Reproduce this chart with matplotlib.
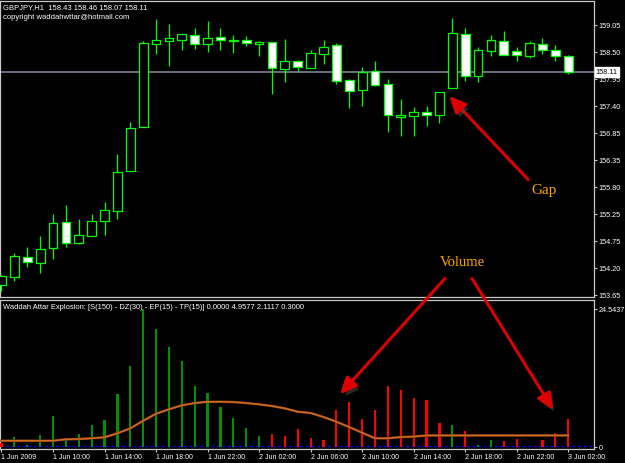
import numpy as np
import matplotlib
matplotlib.use('Agg')
import matplotlib.pyplot as plt
from matplotlib.patches import Rectangle, ConnectionPatch
import matplotlib.patheffects as pe
import matplotlib.transforms as mtransforms

plt.rcParams['font.family'] = ['Liberation Sans', 'DejaVu Sans']

# GBPJPY H1, bars from 1 Jun 06:00 to 3 Jun 02:00
opens = [153.86, 154.02, 154.42, 154.30, 154.60, 155.12, 154.70, 154.84, 155.14, 155.34,
         156.13, 157.02, 158.68, 158.74, 158.76, 158.86, 158.68, 158.82, 158.74, 158.76,
         158.68, 158.72, 158.18, 158.34, 158.20, 158.48, 158.65, 157.96, 157.76, 158.13,
         157.88, 157.22, 157.24, 157.31, 157.26, 157.80, 158.88, 158.04, 158.54, 158.74,
         158.53, 158.44, 158.68, 158.56, 158.43]
highs = [154.05, 154.50, 154.62, 154.83, 155.27, 155.45, 155.17, 155.27, 155.51, 156.47,
         157.12, 158.73, 159.17, 159.07, 158.88, 159.00, 159.13, 158.99, 158.85, 158.83,
         158.74, 158.72, 158.78, 158.36, 158.55, 158.76, 158.69, 157.97, 158.21, 158.34,
         157.97, 157.57, 157.41, 157.44, 157.71, 159.20, 159.00, 158.62, 158.86, 158.93,
         158.62, 158.74, 158.80, 158.65, 158.46]
lows = [153.74, 153.94, 154.22, 154.10, 154.38, 154.61, 154.67, 154.84, 154.85, 155.17,
        156.13, 157.02, 158.48, 158.24, 158.56, 158.57, 158.52, 158.55, 158.50, 158.64,
        158.44, 157.67, 157.92, 158.11, 158.20, 158.28, 157.88, 157.40, 157.44, 157.83,
        156.92, 156.84, 156.84, 157.03, 157.10, 157.80, 157.93, 157.92, 158.44, 158.45,
        158.34, 158.40, 158.48, 158.34, 158.07]
closes = [154.03, 154.44, 154.31, 154.58, 155.10, 154.70, 154.86, 155.14, 155.36, 156.12,
          157.00, 158.70, 158.76, 158.79, 158.88, 158.68, 158.80, 158.76, 158.76, 158.70,
          158.72, 158.20, 158.34, 158.22, 158.49, 158.62, 157.94, 157.74, 158.12, 157.86,
          157.26, 157.26, 157.31, 157.25, 157.71, 158.90, 158.03, 158.56, 158.76, 158.45,
          158.45, 158.70, 158.56, 158.44, 158.11]
last_price = 158.11

# Waddah Attar Explosion histogram
vol = [0.71, 1.78, 0.36, 2.18, 5.56, 1.60, 2.36, 3.96, 4.79, 9.46,
       14.48, 24.54, 21.0, 17.86, 15.37, 10.93, 9.58, 7.21, 5.20, 3.37,
       2.06, 2.36, 1.95, 3.25, 1.60, 1.24, 6.62, 8.04, 4.97, 6.62,
       10.93, 10.17, 8.75, 8.40, 4.37, 3.96, 2.89, 0.41, 1.24, 1.12,
       1.42, 0.0, 1.35, 2.54, 4.96]
vol_up = [0, 1, 1, 1, 1, 1, 1, 1, 1, 1,
          1, 1, 1, 1, 1, 1, 1, 1, 1, 1,
          1, 0, 0, 0, 0, 0, 0, 0, 0, 0,
          0, 0, 0, 0, 0, 1, 0, 1, 1, 0,
          0, 0, 0, 0, 0]
explosion = [1.17, 1.17, 1.17, 1.17, 1.17, 1.42, 1.47, 1.60, 1.78, 2.49,
             3.37, 4.72, 5.96, 6.75, 7.46, 7.86, 8.08, 8.09, 8.04, 7.86,
             7.63, 7.33, 6.92, 6.32, 6.09, 5.38, 4.54, 3.60, 2.59, 1.60,
             1.60, 1.83, 1.90, 2.11, 2.11, 2.11, 2.11, 2.11, 2.11, 2.11,
             2.11, 2.11, 2.11, 2.11, 2.11]
dead_zone = 0.3

price_labels = ['159.05', '158.50', '157.95', '157.40', '156.85', '156.35',
                '155.80', '155.25', '154.75', '154.20', '153.65']
time_labels = ['1 Jun 2009', '1 Jun 10:00', '1 Jun 14:00', '1 Jun 18:00', '1 Jun 22:00',
               '2 Jun 02:00', '2 Jun 06:00', '2 Jun 10:00', '2 Jun 14:00', '2 Jun 18:00',
               '2 Jun 22:00', '3 Jun 02:00']

lime = '#00ff00'
frame = '#c8c8c8'
x = np.arange(len(opens))

fig = plt.figure(figsize=(6.25, 4.63), dpi=100, facecolor='black')
ax1 = fig.add_axes([0.0, 0.3585, 0.9504, 0.6393], facecolor='black')
ax2 = fig.add_axes([0.0, 0.0302, 0.9504, 0.3218], facecolor='black')

for ax in (ax1, ax2):
    ax.set_xlim(-0.116, 46.0)
    for s in ax.spines.values():
        s.set_color(frame)
        s.set_linewidth(0.9)
    ax.yaxis.tick_right()
    ax.tick_params(axis='y', colors=frame, labelcolor='white', length=2.2, width=0.8,
                   labelsize=5.2, pad=0.9)

# ---------------- price pane ----------------
ax1.set_ylim(153.61, 159.53)
ax1.set_xticks([])
ax1.set_yticks(np.linspace(159.05, 153.65, len(price_labels)))
ax1.set_yticklabels(price_labels)

ax1.axhline(last_price, color='#66707c', lw=1.4, zorder=1)

bw = 0.68
for i in range(len(x)):
    o, h, l, c = opens[i], highs[i], lows[i], closes[i]
    ax1.vlines(x[i], l, h, color=lime, lw=0.9, zorder=3)
    face = 'black' if c >= o else 'white'
    ax1.add_patch(Rectangle((x[i] - bw / 2, min(o, c)), bw, max(abs(c - o), 0.01),
                            facecolor=face, edgecolor=lime, lw=0.9, zorder=4))

ax1.text(0.005, 0.99, 'GBPJPY,H1  158.43 158.46 158.07 158.11', transform=ax1.transAxes,
         color='white', fontsize=5.5, ha='left', va='top')
ax1.text(0.005, 0.957, 'copyright waddahwttar@hotmail.com', transform=ax1.transAxes,
         color='white', fontsize=5.5, ha='left', va='top')

trans = mtransforms.blended_transform_factory(ax1.transAxes, ax1.transData)
ax1.text(1.003, last_price, '158.11', transform=trans, color='black', fontsize=5.2,
         ha='left', va='center', zorder=10,
         bbox=dict(facecolor='white', edgecolor='white', pad=0.8))

ax1.text(42.12, 155.74, 'Gap', color='#ffa500', fontsize=11, family='Liberation Serif',
         ha='center', va='center')
ax1.text(35.75, 154.30, 'Volume', color='#ffa500', fontsize=10.5, family='Liberation Serif',
         ha='center', va='center')

# ---------------- indicator pane ----------------
ax2.set_ylim(-0.30, 26.15)
colors = ['#009000' if u else '#ff0000' for u in vol_up]
ax2.bar(x, vol, width=0.17, color=colors, zorder=3)
ax2.plot(x, explosion, color='#d2691e', lw=1.1, zorder=4,
         path_effects=[pe.withStroke(linewidth=1.8, foreground='#7a3a14')])
ax2.axhline(dead_zone, color='#0000ff', lw=1.0, ls=(0, (2, 2)), zorder=2)

ax2.set_yticks([24.5437, 0])
ax2.set_yticklabels(['24.5437', '0'])
ax2.set_xticks(x[::4])
ax2.set_xticklabels(time_labels)
ax2.tick_params(axis='x', colors=frame, labelcolor='white', length=2.5, width=0.8,
                labelsize=5.0, pad=0.8)
for lab in ax2.get_xticklabels():
    lab.set_horizontalalignment('left')

ax2.text(0.005, 0.97, 'Waddah Attar Explosion: [S(150) - DZ(30) - EP(15) - TP(15)] '
         '0.0000 4.9577 2.1117 0.3000', transform=ax2.transAxes,
         color='white', fontsize=5.45, ha='left', va='top')

# ---------------- arrows ----------------
shadow = [pe.SimplePatchShadow(offset=(2, -3), shadow_rgbFace='#505050', alpha=0.5), pe.Normal()]
arrow_style = '-|>,head_length=1.0,head_width=0.45'
arrows = [
    ((40.88, 155.96), ax1, (34.75, 157.63), ax1),
    ((34.43, 153.98), ax1, (26.28, 9.41), ax2),
    ((36.53, 153.98), ax1, (42.84, 6.62), ax2),
]
for a, axa, b, axb in arrows:
    con = ConnectionPatch(xyA=a, coordsA=axa.transData, xyB=b, coordsB=axb.transData,
                          arrowstyle=arrow_style, mutation_scale=10, color='#dd0000',
                          lw=2.2, zorder=20)
    con.set_path_effects(shadow)
    fig.add_artist(con)

fig.savefig('out.png', dpi=100, facecolor='black')
